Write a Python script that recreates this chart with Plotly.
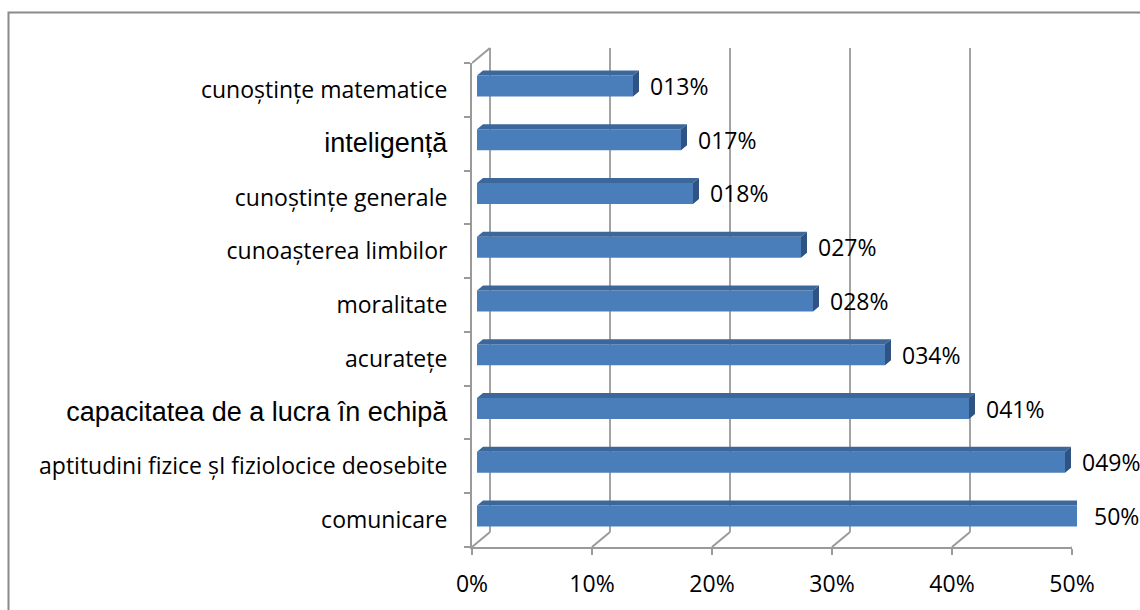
import plotly.graph_objects as go

# ---------------- data ----------------
categories = [
    "comunicare",
    "aptitudini fizice șI fiziolocice deosebite",
    "capacitatea de a lucra în echipă",
    "acuratețe",
    "moralitate",
    "cunoașterea limbilor",
    "cunoștințe generale",
    "inteligență",
    "cunoștințe matematice",
]
values = [0.50, 0.49, 0.41, 0.34, 0.28, 0.27, 0.18, 0.17, 0.13]
value_labels = ["50%", "049%", "041%", "034%", "028%", "027%", "018%", "017%", "013%"]
arial_font = [False, False, True, False, False, False, False, True, False]
x_ticks = [0.0, 0.1, 0.2, 0.3, 0.4, 0.5]

# ---------------- geometry (pixels) ----------------
W, H = 1140, 610
LEFT, RIGHT, TOP, BOTTOM = 472, 1090, 48, 547
PW, PH = RIGHT - LEFT, BOTTOM - TOP
PLANE_W, PLANE_H = 600, 484
DEPTH_X, DEPTH_Y = 18, 15          # front wall -> back wall
BAR_OFF_X, BAR_OFF_Y = 5, 4        # front wall -> bar front face
BAR_DX, BAR_DY = 6, 5              # bar depth
BAR_H = 21

XMAX = 0.5
n = len(categories)
x_per_px = XMAX / PLANE_W
y_per_px = n / PLANE_H

def xdom(off):
    return [off / PW, (off + PLANE_W) / PW]

def ydom(off):
    return [off / PH, (off + PLANE_H) / PH]

idx = list(range(n))
bw = BAR_H * y_per_px
ddx = BAR_DX * x_per_px
ddy = BAR_DY * y_per_px

GRID = "#a3a3a3"
AXIS = "#9a9a9a"
FRONT = "#4A7EBB"
TOPC = "#3C679A"
SIDE = "#2F5483"
FONT = "Open Sans"
FS = 23

fig = go.Figure()

# bars (front faces) on the bar plane (x2/y2)
fig.add_trace(go.Bar(
    x=values, y=idx, orientation="h", width=bw,
    marker=dict(color=FRONT, line=dict(width=0)),
    xaxis="x2", yaxis="y2", hoverinfo="skip", showlegend=False,
))

# top and side faces
tx, ty, sx, sy = [], [], [], []
for i, v in zip(idx, values):
    yt = i + bw / 2
    yb = i - bw / 2
    tx += [0, v, v + ddx, ddx, 0, None]
    ty += [yt, yt, yt + ddy, yt + ddy, yt, None]
    sx += [v, v, v + ddx, v + ddx, v, None]
    sy += [yb, yt, yt + ddy, yb + ddy, yb, None]

fig.add_trace(go.Scatter(x=tx, y=ty, mode="lines", fill="toself", fillcolor=TOPC,
                         line=dict(width=0, color=TOPC), xaxis="x2", yaxis="y2",
                         hoverinfo="skip", showlegend=False))
fig.add_trace(go.Scatter(x=sx, y=sy, mode="lines", fill="toself", fillcolor=SIDE,
                         line=dict(width=0, color=SIDE), xaxis="x2", yaxis="y2",
                         hoverinfo="skip", showlegend=False))

tick_text = []
for c, a in zip(categories, arial_font):
    if a:
        tick_text.append('<span style="font-family:\'Liberation Sans\', Arial;font-size:27px">' + c + "</span>")
    else:
        tick_text.append(c)

DX = DEPTH_X * x_per_px
shapes = []
# back-wall gridlines (below the bars)
for t in x_ticks:
    shapes.append(dict(type="line", xref="x", yref="paper", layer="below",
                       x0=t + DX, y0=DEPTH_Y / PH, x1=t + DX, y1=1,
                       line=dict(color=GRID, width=2)))
# floor lines
for t in x_ticks:
    shapes.append(dict(type="line", xref="x", yref="paper", layer="below",
                       x0=t, y0=0, x1=t + DX, y1=DEPTH_Y / PH,
                       line=dict(color=AXIS, width=2)))
# top-left wall edge
shapes.append(dict(type="line", xref="x", yref="paper", layer="below",
                   x0=0, y0=PLANE_H / PH, x1=DX, y1=(PLANE_H + DEPTH_Y) / PH,
                   line=dict(color=AXIS, width=2)))
# outer chart border
shapes.append(dict(type="rect", xref="paper", yref="paper",
                   x0=(8.5 - LEFT) / PW, y0=(BOTTOM - 12.5) / PH,
                   x1=(W + 20 - LEFT) / PW, y1=(BOTTOM - H - 20) / PH,
                   line=dict(color="#8a8a8a", width=2), fillcolor="rgba(0,0,0,0)"))

annotations = []
for i, v, lab in zip(idx, values, value_labels):
    annotations.append(dict(x=v, y=i, xref="x2", yref="y2", text=lab, showarrow=False,
                            xanchor="left", yanchor="middle", xshift=15,
                            font=dict(family=FONT, size=FS, color="#000000")))

fig.update_layout(
    width=W, height=H,
    margin=dict(l=LEFT, r=W - RIGHT, t=TOP, b=H - BOTTOM, pad=0),
    paper_bgcolor="white", plot_bgcolor="rgba(0,0,0,0)",
    font=dict(family=FONT, size=FS, color="#000000"),
    showlegend=False,
    # front wall (axes, ticks, labels)
    xaxis=dict(domain=xdom(0), anchor="y", range=[0, XMAX], tickvals=x_ticks,
               tickformat=".0%", showgrid=False, zeroline=False,
               showline=True, linecolor=AXIS, linewidth=2,
               ticks="outside", ticklen=6, tickwidth=2, tickcolor=AXIS,
               ticklabelstandoff=9,
               tickfont=dict(family=FONT, size=FS, color="#000000")),
    yaxis=dict(domain=ydom(0), anchor="x", range=[-0.5, n - 0.5],
               tickvals=idx, ticktext=tick_text, ticks="",
               showgrid=False, zeroline=False,
               showline=True, linecolor=AXIS, linewidth=2,
               minor=dict(tick0=-0.5, dtick=1, ticks="outside", ticklen=6,
                          tickwidth=2, tickcolor=AXIS, showgrid=False),
               ticklabelstandoff=18,
               tickfont=dict(family=FONT, size=FS, color="#000000")),
    # bar plane
    xaxis2=dict(domain=xdom(BAR_OFF_X), anchor="y2", range=[0, XMAX], visible=False),
    yaxis2=dict(domain=ydom(BAR_OFF_Y), anchor="x2", range=[-0.5, n - 0.5], visible=False),
    shapes=shapes,
    annotations=annotations,
)

fig.write_html("out.html")
